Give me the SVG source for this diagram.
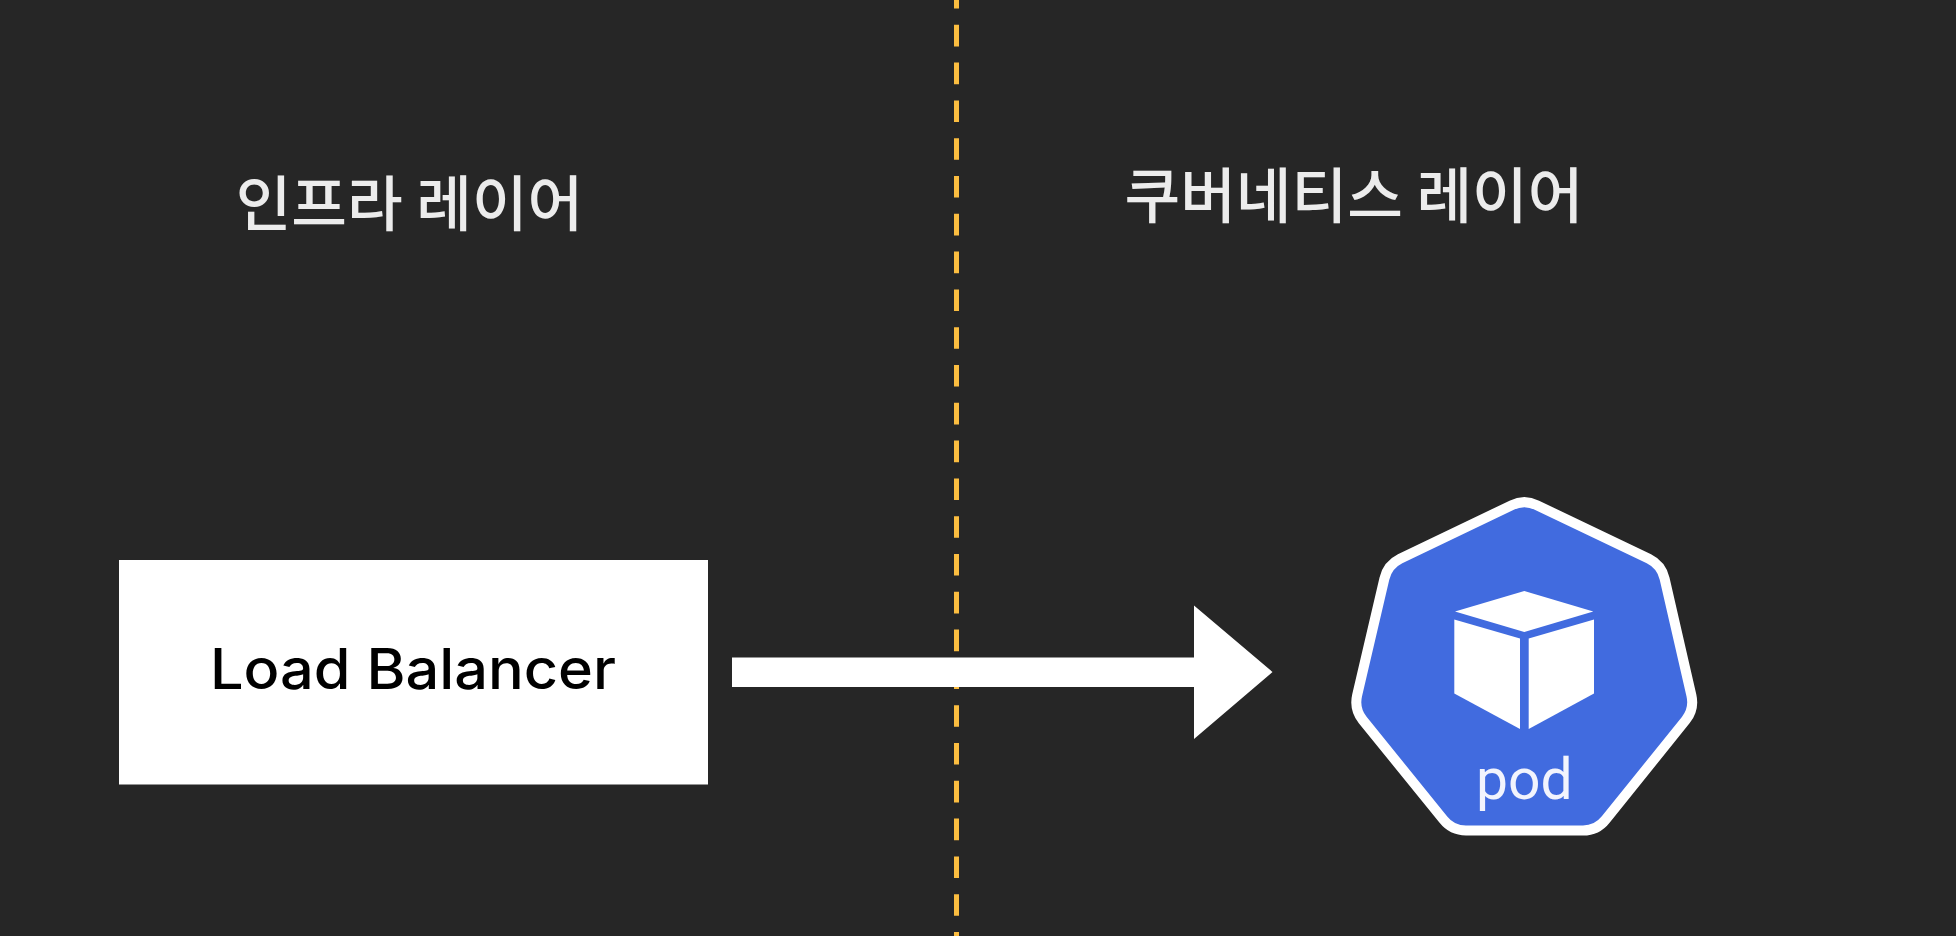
<svg xmlns="http://www.w3.org/2000/svg" width="1956" height="936" viewBox="0 0 1956 936">
<style>
.title{font-family:"Noto Sans CJK KR","Noto Sans",sans-serif;font-size:60.5px;font-weight:500;fill:#ececec;text-anchor:middle}
.wf{fill:#fff}
</style>
<rect width="1956" height="936" fill="#262626"/>
<g id="divider"><line x1="956.5" y1="-13" x2="956.5" y2="936" stroke="#fbbd40" stroke-width="5" stroke-dasharray="21.6 16.2"/></g>
<g id="title-infra"><text class="title" x="409.5" y="226">인프라 레이어</text></g>
<g id="title-k8s"><text class="title" x="1354" y="218">쿠버네티스 레이어</text></g>
<g id="load-balancer">
<rect class="wf" x="119" y="560" width="589" height="224.5"/>
<text x="413" y="689" font-family="Inter,Liberation Sans,sans-serif" font-size="56" font-weight="500" fill="#000" text-anchor="middle" textLength="406" lengthAdjust="spacingAndGlyphs">Load Balancer</text>
</g>
<g id="connectors">
<polygon class="wf" points="732,657.5 1194,657.5 1194,605.5 1272.5,672 1194,739 1194,687 732,687"/>
</g>
<g id="pod">
<path d="M1511.7 505.2Q1524.3 499 1536.9 505.2L1648.9 558.8Q1661.5 565 1664.6 578.7L1691.4 695.3Q1694.5 709 1685.8 720L1605.7 819.5Q1597 830.5 1583 830.5L1466 830.5Q1452 830.5 1443.3 819.5L1362.7 720Q1354 709 1357.1 695.3L1384.4 578.7Q1387.5 565 1400.1 558.8Z" fill="#416bdf" stroke="#fff" stroke-width="10"/>
<polygon class="wf" points="1524.3,591 1593.3,611.5 1524.3,632 1455,611.5"/>
<polygon class="wf" points="1454.3,619.5 1520,638.5 1520,729 1454.3,693.5"/>
<polygon class="wf" points="1594,619.5 1528.7,638.5 1528.7,729 1594,693.5"/>
<text x="1524.3" y="799.3" font-family="Roboto,Liberation Sans,sans-serif" font-size="57" fill="#f2f4fd" text-anchor="middle">pod</text>
</g>
</svg>
